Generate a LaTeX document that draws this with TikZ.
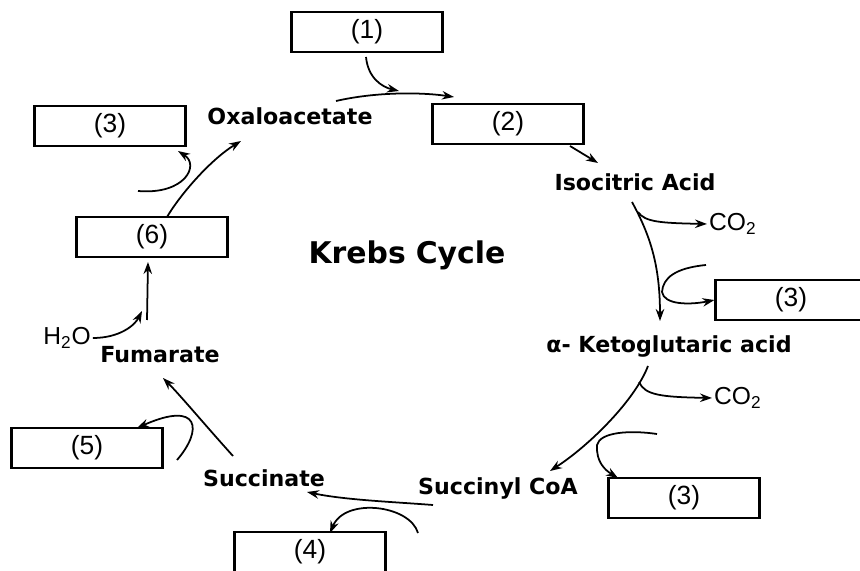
\documentclass[tikz,border=0pt]{standalone}
\usepackage{fontspec}
\setmainfont{Liberation Sans}
\newfontfamily\chemfont{DejaVu Sans}
\usetikzlibrary{arrows.meta}

\begin{document}
\begin{tikzpicture}[x=0.02cm, y=-0.02cm,
        box/.style={draw, line width=1.2pt, minimum width=3.02cm, minimum height=0.8cm, font=\fontsize{15}{17}\selectfont},
        chem/.style={font=\chemfont\bfseries\fontsize{12.6}{14}\selectfont, inner sep=1pt},
        small/.style={font=\fontsize{14}{16}\selectfont, inner sep=1pt},
        arr/.style={->, >={Stealth[length=2.4mm, width=1.7mm]}, line width=1pt}]
        \useasboundingbox (0,0) rectangle (860,571);

        \node[box] (b1) at (367,32) {(1)};
        \node[box] (b2) at (508,124) {(2)};
        \node[box] (b3tl) at (110,126) {(3)};
        \node[box] (b6) at (152,237) {(6)};
        \node[box] (b3r) at (791,300) {(3)};
        \node[box] (b5) at (87,448) {(5)};
        \node[box] (b4) at (310,552) {(4)};
        \node[box] (b3b) at (684,498) {(3)};

        \node[chem] (ox) at (290,116) {Oxaloacetate};
        \node[chem] (iso) at (635,182) {Isocitric Acid};
        \node[chem, font=\chemfont\bfseries\fontsize{17}{20}\selectfont] (krebs) at (407,255) {Krebs\,\,Cycle};
        \node[chem] (ak) at (669,346) {α- Ketoglutaric acid};
        \node[chem] (sc) at (498,488) {Succinyl CoA};
        \node[chem] (suc) at (264,478) {Succinate};
        \node[chem] (fum) at (160,355) {Fumarate};
        \node[small] (h2o) at (67,338) {H\textsubscript{2}O};
        \node[small, anchor=west] (co2top) at (707,224) {CO\textsubscript{2}};
        \node[small, anchor=west] (co2mid) at (712,398) {CO\textsubscript{2}};

        \coordinate (oxout) at (336,101);
        \coordinate (cin) at (454,97);
        \coordinate (acin) at (366,57);
        \coordinate (acjoin) at (399,91);
        \coordinate (citout) at (570,146);
        \coordinate (isoin) at (598,163);
        \coordinate (isoout) at (632,202);
        \coordinate (akin) at (660,321);
        \coordinate (co2topout) at (638,212);
        \coordinate (nadtop) at (706,265);
        \coordinate (akout) at (648,366);
        \coordinate (scin) at (550,471);
        \coordinate (co2midout) at (639,382);
        \coordinate (nadmid) at (657,434);
        \coordinate (b3bin) at (618,478);
        \coordinate (scout) at (433,505);
        \coordinate (sucin) at (307,492);
        \coordinate (gdpin) at (418,533);
        \coordinate (b4in) at (330,533);
        \coordinate (sucout) at (233,456);
        \coordinate (fumin) at (163,378);
        \coordinate (fadin) at (177,460);
        \coordinate (b5in) at (137,428);
        \coordinate (fumout) at (147,320);
        \coordinate (b6in) at (148,262);
        \coordinate (h2oin) at (142,311);
        \coordinate (b6out) at (167,217);
        \coordinate (oxin) at (241,141);
        \coordinate (nadbot) at (138,191);
        \coordinate (b3tlin) at (178,151);

        \draw[arr] (oxout) .. controls (375,92) and (420,92) .. (cin);
        \draw[arr] (acin) .. controls (368,78) and (382,87) .. (acjoin);
        \draw[arr] (citout) -- (isoin);
        \draw[arr] (isoout) .. controls (650,235) and (660,265) .. (akin);
        \draw[arr] (co2topout) .. controls (645,222) and (660,223) .. (co2top.west);
        \draw[arr] (nadtop) .. controls (675,268) and (663,278) .. (662,292) .. controls (664,305) and (690,305) .. (b3r.west);
        \draw[arr] (akout) .. controls (635,400) and (590,445) .. (scin);
        \draw[arr] (co2midout) .. controls (645,395) and (660,397) .. (co2mid.west);
        \draw[arr] (nadmid) .. controls (630,430) and (600,432) .. (597,445) .. controls (596,462) and (605,470) .. (b3bin);
        \draw[arr] (scout) .. controls (395,502) and (345,500) .. (sucin);
        \draw[arr] (gdpin) .. controls (410,505) and (345,497) .. (b4in);
        \draw[arr] (sucout) .. controls (205,425) and (180,395) .. (fumin);
        \draw[arr] (fadin) .. controls (203,430) and (200,400) .. (b5in);
        \draw[arr] (fumout) -- (b6in);
        \draw[arr] (h2o.east) .. controls (120,338) and (135,325) .. (h2oin);
        \draw[arr] (b6out) .. controls (180,195) and (210,160) .. (oxin);
        \draw[arr] (nadbot) .. controls (185,195) and (200,165) .. (b3tlin);
    \end{tikzpicture}
\end{document}
